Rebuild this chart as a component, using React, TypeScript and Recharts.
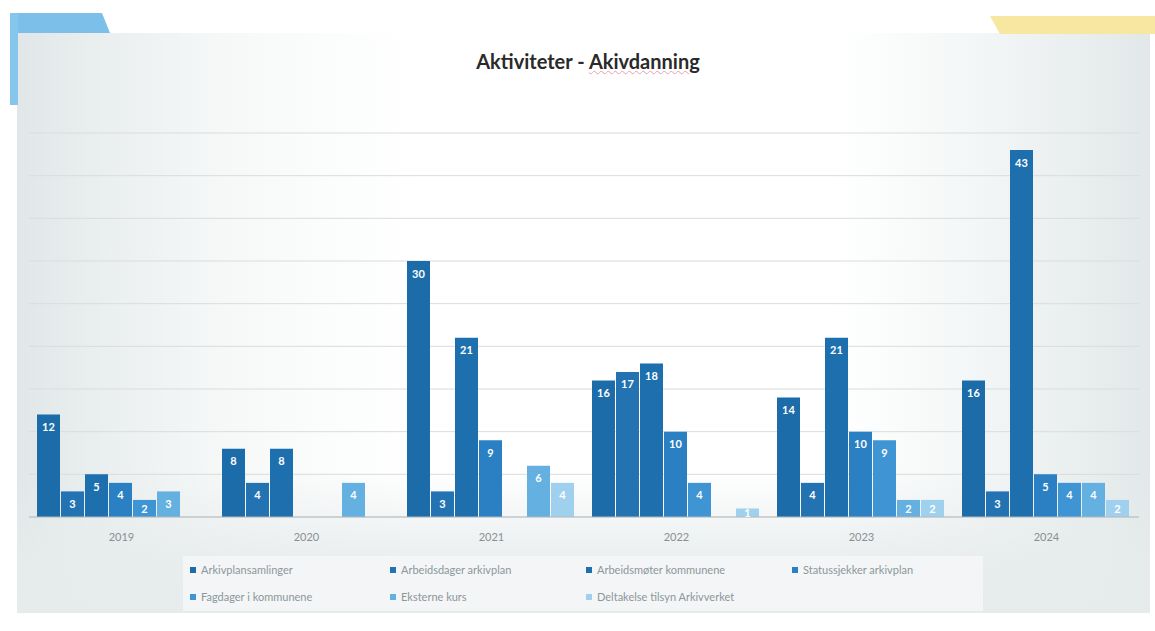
import React from "react";
import {
  BarChart,
  Bar,
  XAxis,
  YAxis,
  CartesianGrid,
  LabelList,
} from "recharts";

const years = ["2019", "2020", "2021", "2022", "2023", "2024"];

const arkivplansamlinger = [12, 8, 30, 16, 14, 16];
const arbeidsdagerArkivplan = [3, 4, 3, 17, 4, 3];
const arbeidsmoterKommunene = [5, 8, 21, 18, 21, 43];
const statussjekkerArkivplan = [4, 0, 9, 10, 10, 5];
const fagdagerKommunene = [2, 0, 0, 4, 9, 4];
const eksterneKurs = [3, 4, 6, 0, 2, 4];
const deltakelseTilsyn = [0, 0, 4, 1, 2, 2];

const yTicks = [0, 5, 10, 15, 20, 25, 30, 35, 40, 45];

const SERIES = [
  { key: "s1", name: "Arkivplansamlinger", values: arkivplansamlinger, color: "#1b6ca8" },
  { key: "s2", name: "Arbeidsdager arkivplan", values: arbeidsdagerArkivplan, color: "#2373b2" },
  { key: "s3", name: "Arbeidsmøter kommunene", values: arbeidsmoterKommunene, color: "#1d6fae" },
  { key: "s4", name: "Statussjekker arkivplan", values: statussjekkerArkivplan, color: "#2a80c2" },
  { key: "s5", name: "Fagdager i kommunene", values: fagdagerKommunene, color: "#3f95d3" },
  { key: "s6", name: "Eksterne kurs", values: eksterneKurs, color: "#64b0e0" },
  { key: "s7", name: "Deltakelse tilsyn Arkivverket", values: deltakelseTilsyn, color: "#9fd1ef" },
];

const data = years.map((year, i) => {
  const row: Record<string, string | number> = { year };
  SERIES.forEach((s) => {
    row[s.key] = s.values[i];
  });
  return row;
});

const FONT = "Lato, 'Open Sans', sans-serif";

function BarLabel(props: any) {
  const { x, y, width, height, value } = props;
  const cx = x + width / 2;
  const cy = height > 0 ? y + Math.min(12, height / 2) : y - 12;
  return (
    <text
      x={cx}
      y={cy}
      fill="#ffffff"
      fontSize={11}
      fontWeight={700}
      fontFamily={FONT}
      textAnchor="middle"
      dominantBaseline="central"
    >
      {value}
    </text>
  );
}

// legend is laid out by hand: 4 columns, 2 rows like the original
const LEGEND_COLS = [190, 390, 586, 792];

export default function App() {
  return (
    <div
      style={{
        position: "relative",
        width: 1155,
        height: 631,
        background: "#ffffff",
        overflow: "hidden",
        fontFamily: FONT,
      }}
    >
      <style>{"body{margin:0}"}</style>
      {/* scanned page frame */}
      <div
        style={{
          position: "absolute",
          left: 17,
          top: 33,
          width: 1133,
          height: 580,
          background:
            "linear-gradient(90deg, #e1e7e8 0%, #e8edee 6%, #f6f8f8 18%, #ffffff 35%, #ffffff 72%, #f4f7f7 84%, #e2e8e9 100%)",
        }}
      />
      <div
        style={{
          position: "absolute",
          left: 17,
          top: 470,
          width: 1133,
          height: 143,
          background: "linear-gradient(180deg, rgba(230,235,236,0) 0%, rgba(230,235,236,0.8) 60%, #e6ebec 100%)",
        }}
      />
      {/* corner decorations */}
      <div
        style={{
          position: "absolute",
          left: 10,
          top: 13,
          width: 100,
          height: 20,
          background: "#7cc0ea",
          clipPath: "polygon(0 0, 92% 0, 100% 100%, 0 100%)",
        }}
      />
      <div style={{ position: "absolute", left: 10, top: 13, width: 8, height: 92, background: "#86c6ec" }} />
      <div
        style={{
          position: "absolute",
          left: 990,
          top: 16,
          width: 165,
          height: 18,
          background: "#f8e7a0",
          clipPath: "polygon(0 0, 100% 0, 100% 100%, 6% 100%)",
        }}
      />
      {/* legend box */}
      <div
        style={{
          position: "absolute",
          left: 183,
          top: 556,
          width: 800,
          height: 55,
          background: "#f3f5f6",
        }}
      />

      <div
        style={{
          position: "absolute",
          left: 0,
          top: 49,
          width: 1176,
          textAlign: "center",
          fontSize: 20,
          fontWeight: 700,
          color: "#2a2a2a",
        }}
      >
        Aktiviteter -{" "}
        <span style={{ textDecoration: "underline wavy #e8a0b0", textDecorationThickness: 1 }}>
          Akivdanning
        </span>
      </div>

      <div style={{ position: "absolute", left: 0, top: 0 }}>
        <BarChart
          width={1155}
          height={631}
          data={data}
          margin={{ top: 133, right: 16, bottom: 84, left: 29 }}
          barCategoryGap={8}
          barGap={1}
        >
          <CartesianGrid vertical={false} stroke="#d9dddd" strokeWidth={1} />
          <XAxis
            dataKey="year"
            axisLine={{ stroke: "#b4b9bb" }}
            tickLine={false}
            tickMargin={10}
            tick={{ fill: "#8a8f92", fontSize: 11, fontFamily: FONT }}
          />
          <YAxis hide domain={[0, 45]} ticks={yTicks} />
          {SERIES.map((s) => (
            <Bar key={s.key} dataKey={s.key} name={s.name} fill={s.color} isAnimationActive={false}>
              <LabelList dataKey={s.key} content={<BarLabel />} />
            </Bar>
          ))}
        </BarChart>
      </div>

      {SERIES.map((s, i) => {
        const col = i < 4 ? i : i - 4;
        const row = i < 4 ? 0 : 1;
        return (
          <div
            key={s.key}
            style={{
              position: "absolute",
              left: LEGEND_COLS[col],
              top: 563 + row * 27,
              display: "flex",
              alignItems: "center",
              gap: 5,
              fontSize: 11,
              color: "#8c979c",
              whiteSpace: "nowrap",
            }}
          >
            <span style={{ width: 6, height: 6, background: s.color, display: "inline-block" }} />
            <span>{s.name}</span>
          </div>
        );
      })}
    </div>
  );
}
